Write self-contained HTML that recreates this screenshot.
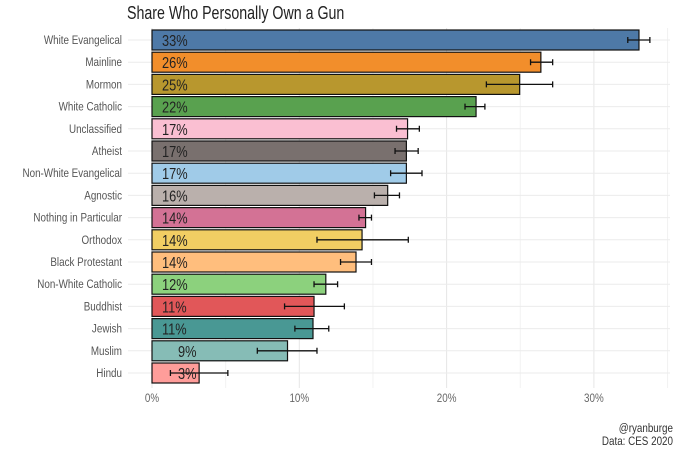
<!DOCTYPE html>
<html><head><meta charset="utf-8">
<style>
body{margin:0;background:#fff;}
svg{display:block;font-family:"Liberation Sans",sans-serif;}
</style></head>
<body>
<svg id="chart" width="680" height="453" viewBox="0 0 680 453">
<text transform="translate(127,19) scale(0.79,1)" font-size="18" fill="#222">Share Who Personally Own a Gun</text>
<g id="grid"></g>
<g id="bars"></g>
<g id="xaxis"></g>
<text transform="translate(673,432) scale(0.82,1)" font-size="12" fill="#333" text-anchor="end">@ryanburge</text>
<text transform="translate(673,445) scale(0.82,1)" font-size="12" fill="#333" text-anchor="end">Data: CES 2020</text>
</svg>
<script>
const categories=["White Evangelical","Mainline","Mormon","White Catholic","Unclassified","Atheist","Non-White Evangelical","Agnostic","Nothing in Particular","Orthodox","Black Protestant","Non-White Catholic","Buddhist","Jewish","Muslim","Hindu"];
const values=[33.06,26.4,24.96,22.0,17.35,17.27,17.27,16.0,14.5,14.26,13.85,11.8,11.0,10.93,9.2,3.2];
const lower=[32.3,25.7,22.7,21.25,16.6,16.5,16.2,15.1,14.05,11.2,12.8,11.0,9.0,9.7,7.15,1.25];
const upper=[33.8,27.2,27.2,22.6,18.15,18.07,18.33,16.8,14.9,17.4,14.9,12.6,13.06,12.0,11.2,5.15];
const labels=["33%","26%","25%","22%","17%","17%","17%","16%","14%","14%","14%","12%","11%","11%","9%","3%"];
const colors=["#4e79a7","#f28e2b","#b8972e","#59a14f","#fabfd2","#79706e","#a0cbe8","#bab0ac","#d37295","#f1ce63","#ffbe7d","#8cd17d","#e15759","#499894","#86bcb6","#ff9d9a"];
const tickValues=[0,10,20,30];
const tickLabels=["0%","10%","20%","30%"];
const minorTicks=[5,15,25,35];

const NS="http://www.w3.org/2000/svg";
const x0=152,pxPer=14.73,yTop=40,step=22.2,barH=20,xEnd=670;
const xs=v=>x0+v*pxPer;
const ys=i=>yTop+i*step;
function mk(tag,attrs,parent){const e=document.createElementNS(NS,tag);for(const k in attrs)e.setAttribute(k,attrs[k]);parent.appendChild(e);return e;}
const grid=document.getElementById('grid'),bars=document.getElementById('bars'),xa=document.getElementById('xaxis');
const gTop=28,gBot=388;
minorTicks.forEach(v=>{const l=mk('line',{x1:xs(v),x2:xs(v),y1:gTop,y2:gBot,stroke:'#f2f2f2','stroke-width':1},grid);

});
tickValues.forEach((v,i)=>{const l=mk('line',{x1:xs(v),x2:xs(v),y1:gTop,y2:gBot,stroke:'#e6e6e6','stroke-width':1},grid);


const t=mk('text',{transform:`translate(${xs(v)},402) scale(0.82,1)`,'font-size':12,fill:'#666','text-anchor':'middle'},xa);t.textContent=tickLabels[i];

});
categories.forEach((c,i)=>{const y=ys(i);
const gl=mk('line',{x1:128,x2:xEnd,y1:y,y2:y,stroke:'#ebebeb','stroke-width':1},grid);


const t=mk('text',{transform:`translate(122,${y+4}) scale(0.82,1)`,'font-size':12,fill:'#555','text-anchor':'end'},grid);t.textContent=c;


const r=mk('rect',{x:x0,y:y-barH/2,width:xs(values[i])-x0,height:barH,fill:colors[i],stroke:'#111','stroke-width':1.2},bars);


const e=mk('path',{d:`M${xs(lower[i])},${y}H${xs(upper[i])}M${xs(lower[i])},${y-3}V${y+3}M${xs(upper[i])},${y-3}V${y+3}`,stroke:'#111','stroke-width':1.3,fill:'none'},bars);


const vt=mk('text',{transform:`translate(${labels[i].length<3?178:162},${y+6}) scale(0.8,1)`,'font-size':16,fill:'#222'},bars);vt.textContent=labels[i];


});
</script>
</body></html>
